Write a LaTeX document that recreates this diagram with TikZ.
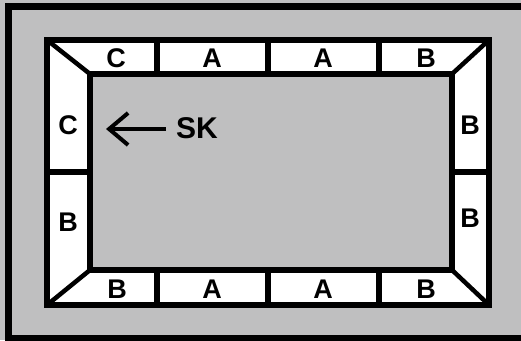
\documentclass[tikz,border=0pt]{standalone}
\usepackage{fontspec}
\setmainfont{Liberation Sans}
\usetikzlibrary{arrows.meta}
\definecolor{panelgray}{RGB}{191,191,192}

\begin{document}
\begin{tikzpicture}[x=1pt, y=-1pt,
    frame/.style={draw=black, line width=6pt},
    divider/.style={draw=black, line width=5.5pt},
    diag/.style={draw=black, line width=4.5pt},
    lbl/.style={font=\bfseries\fontsize{27}{27}\selectfont, inner sep=0pt},
    arr/.style={-{Straight Barb[length=19pt, width=32pt]}, line width=4pt}
]
\useasboundingbox (0,0) rectangle (521,340);
\clip (0,0) rectangle (521,340);
\fill[panelgray] (0,0) rectangle (521,340);
\draw[line width=7pt] (8,6) rectangle (530,338);
% band of cells
\fill[white] (47,40) rectangle (489,305);
\fill[panelgray] (90,74) rectangle (452,270);
\draw[diag] (47,40) -- (90,74);
\draw[diag] (489,40) -- (452,74);
\draw[diag] (47,305) -- (90,270);
\draw[diag] (489,305) -- (452,270);
\foreach \x in {157,268,379} {
  \draw[divider] (\x,40) -- (\x,74);
  \draw[divider] (\x,270) -- (\x,305);
}
\draw[divider] (47,172) -- (90,172);
\draw[divider] (452,172) -- (489,172);
\draw[frame] (47,40) rectangle (489,305);
\draw[frame] (90,74) rectangle (452,270);
% labels
\node[lbl] (top1) at (116,58) {C};
\node[lbl] (top2) at (212,58) {A};
\node[lbl] (top3) at (323,58) {A};
\node[lbl] (top4) at (426,58) {B};
\node[lbl] (bot1) at (117,289) {B};
\node[lbl] (bot2) at (212,289) {A};
\node[lbl] (bot3) at (323,289) {A};
\node[lbl] (bot4) at (426,289) {B};
\node[lbl] (left1) at (68,125) {C};
\node[lbl] (left2) at (68,222) {B};
\node[lbl] (right1) at (470,125) {B};
\node[lbl] (right2) at (470,218) {B};
% SK arrow
\node[lbl, font=\bfseries\fontsize{30}{30}\selectfont, anchor=west] (sk) at (176,128) {SK};
\coordinate (sktip) at (106,129);
\draw[arr, shorten <=10pt] (sk.west |- sktip) -- (sktip);
\end{tikzpicture}
\end{document}
